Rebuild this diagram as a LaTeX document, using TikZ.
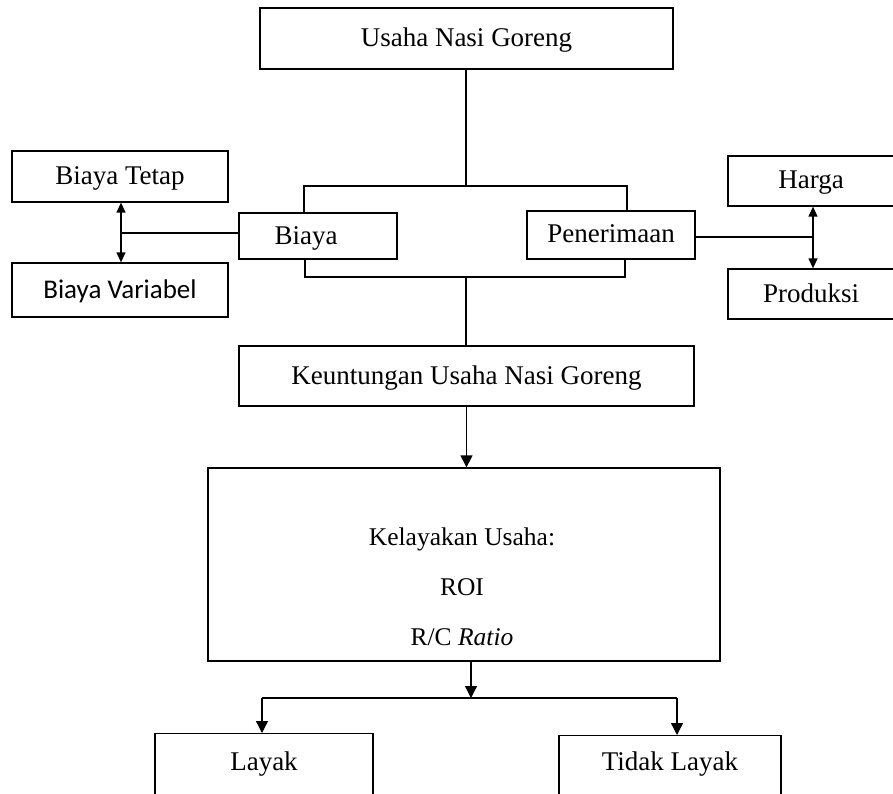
\documentclass[tikz,border=0pt]{standalone}
\usepackage{fontspec}
\setmainfont{Liberation Serif}
\newfontfamily\calibfont{Carlito}
\usetikzlibrary{arrows.meta}
\tikzset{
  box/.style={draw=black, line width=1.3pt, rectangle, inner sep=0pt, font=\fontsize{27}{32}\selectfont, text height=20pt, text depth=4pt},
  txt/.style={inner sep=0pt, font=\fontsize{27}{32}\selectfont, text height=20pt, text depth=4pt},
  ln/.style={draw=black, line width=1.3pt},
  arr/.style={ln, -{Triangle[length=12pt,width=12pt]}},
  darr/.style={ln, {Triangle[length=10pt,width=9pt]}-{Triangle[length=10pt,width=9pt]}}
}
\begin{document}
\begin{tikzpicture}[x=1pt,y=-1pt]
\useasboundingbox (0,0) rectangle (893,794);
\clip (0,0) rectangle (893,794);
% nodes
\node[box, minimum width=413pt, minimum height=61pt] (usaha) at (466.5,38.5) {Usaha Nasi Goreng};
\node[box, minimum width=158pt, minimum height=46pt] (biaya) at (318,236) {Biaya\hspace*{24pt}};
\node[box, minimum width=168pt, minimum height=48pt] (terima) at (611,235) {Penerimaan};
\node[box, minimum width=216pt, minimum height=51pt] (tetap) at (120,176.5) {Biaya Tetap};
\node[box, minimum width=216pt, minimum height=54pt, font=\calibfont\fontsize{27}{32}\selectfont] (variabel) at (120,290) {Biaya Variabel};
\node[box, minimum width=166pt, minimum height=50pt] (harga) at (811,181) {Harga};
\node[box, minimum width=166pt, minimum height=50pt] (produksi) at (811,294) {Produksi};
\node[box, minimum width=455pt, minimum height=60pt] (untung) at (466.5,376) {Keuntungan Usaha Nasi Goreng};
\node[box, minimum width=512pt, minimum height=193pt] (layak0) at (464,564.5) {};
\node[txt, align=center, font=\fontsize{25.5}{50}\selectfont, text height=, text depth=] (layakt) at (462,587) {Kelayakan Usaha:\\ROI\\R/C \textit{Ratio}};
\node[box, minimum width=218pt, minimum height=80pt, anchor=north] (layak) at (264,733) {};
\node[txt] (layaktxt) at (264,762) {Layak};
\node[box, minimum width=222pt, minimum height=80pt, anchor=north] (tidak) at (670,735) {};
\node[txt] (tidaktxt) at (670,762) {Tidak Layak};
% coordinates
\coordinate (bt) at (466,186);
\coordinate (bb) at (466,277);
\coordinate (lj) at (121,233);
\coordinate (rj) at (813,237);
\coordinate (dj) at (471,698);
% top connector and upper bracket
\draw[ln] (usaha.south -| bt) -- (bt);
\draw[ln] (304,213) -- (304,186) -- (627,186) -- (627,211);
% lower bracket
\draw[ln] (305,259) -- (305,277) -- (625,277) -- (625,259);
\draw[ln] (bb) -- (untung.north -| bb);
% left side
\draw[ln] (biaya.west |- lj) -- (lj);
\draw[darr] (tetap.south -| lj) -- (variabel.north -| lj);
% right side
\draw[ln] (terima.east |- rj) -- (rj);
\draw[darr] (harga.south -| rj) -- (produksi.north -| rj);
% down to kelayakan
\draw[arr] (untung.south) -- (untung.south |- layak0.north);
\draw[arr] (layak0.south -| dj) -- (dj);
\draw[ln] (262,698) -- (677,698);
\draw[arr] (262,698) -- (layak.north -| 262,0);
\draw[arr] (677,698) -- (tidak.north -| 677,0);
\end{tikzpicture}
\end{document}
